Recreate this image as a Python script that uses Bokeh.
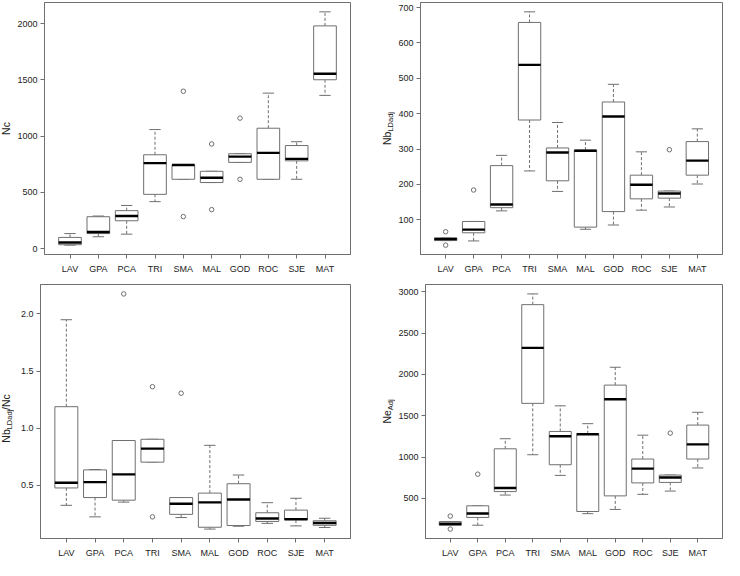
import math
from bokeh.plotting import figure
from bokeh.models import Range1d, FixedTicker, PrintfTickFormatter, Label
from bokeh.layouts import row, column
from bokeh.embed import file_html
from bokeh.resources import INLINE

categories = ["LAV", "GPA", "PCA", "TRI", "SMA", "MAL", "GOD", "ROC", "SJE", "MAT"]

# Panel 1: Nc
nc_low  = [30, 105, 128, 417, 616, 587, 766, 616, 616, 1362]
nc_q1   = [34, 133, 247, 482, 616, 587, 766, 616, 780, 1501]
nc_med  = [54, 147, 289, 760, 743, 630, 817, 851, 797, 1555]
nc_q3   = [99, 283, 337, 834, 743, 687, 843, 1070, 916, 1980]
nc_high = [133, 289, 383, 1058, 743, 687, 843, 1382, 950, 2105]
nc_out  = [[], [], [], [], [1399, 284], [930, 346], [1160, 616], [], [], []]
nc_ticks = [0, 500, 1000, 1500, 2000]

# Panel 2: Nb(LDadj)
nb_low  = [41, 40, 125, 238, 180, 73, 85, 127, 136, 201]
nb_q1   = [41, 63, 134, 382, 210, 79, 123, 159, 161, 226]
nb_med  = [45, 72, 143, 538, 290, 295, 392, 199, 174, 267]
nb_q3   = [49, 95, 253, 658, 303, 297, 433, 226, 181, 321]
nb_high = [49, 95, 282, 688, 375, 325, 483, 292, 181, 357]
nb_out  = [[66, 28], [184], [], [], [], [], [], [], [298], []]
nb_ticks = [100, 200, 300, 400, 500, 600, 700]

# Panel 3: Nb(LDadj)/Nc
r_low  = [0.325, 0.224, 0.353, 0.703, 0.218, 0.117, 0.142, 0.167, 0.145, 0.131]
r_q1   = [0.477, 0.393, 0.370, 0.703, 0.246, 0.133, 0.148, 0.184, 0.196, 0.150]
r_med  = [0.523, 0.528, 0.596, 0.821, 0.339, 0.351, 0.376, 0.210, 0.204, 0.170]
r_q3   = [1.188, 0.635, 0.892, 0.903, 0.393, 0.432, 0.514, 0.260, 0.283, 0.190]
r_high = [1.949, 0.638, 0.892, 0.903, 0.393, 0.850, 0.590, 0.348, 0.387, 0.212]
r_out  = [[], [], [2.175], [1.363, 0.224], [1.306], [], [], [], [], []]
r_ticks = [0.5, 1.0, 1.5, 2.0]

# Panel 4: Ne(Adj)
ne_low  = [172, 175, 540, 1028, 778, 315, 366, 549, 588, 868]
ne_q1   = [172, 269, 582, 1650, 907, 341, 530, 687, 693, 976]
ne_med  = [192, 316, 625, 2322, 1251, 1276, 1700, 860, 752, 1153]
ne_q3   = [219, 410, 1100, 2845, 1310, 1283, 1871, 976, 782, 1387]
ne_high = [219, 410, 1222, 2975, 1620, 1404, 2087, 1265, 782, 1542]
ne_out  = [[285, 128], [793], [], [], [], [], [], [], [1290], []]
ne_ticks = [500, 1000, 1500, 2000, 2500, 3000]

FONT = "Liberation Sans"
LINE = "#6f6f6f"
TEXT = "#222222"
MAIN_PX = 10.5
SUB_PX = 7.5
DESC = 0.21
CW = {"N": 0.722, "b": 0.556, "L": 0.556, "D": 0.722, "a": 0.556, "d": 0.556,
      "j": 0.222, "/": 0.278, "c": 0.5, "e": 0.556, "A": 0.667}


def text_w(s, px):
    return sum(CW.get(ch, 0.556) for ch in s) * px


def make_panel(low, q1, med, q3, high, outs, ticks, fmt, width, height, bl, br, bt, bb):
    n = len(categories)
    xs = list(range(1, n + 1))
    allv = low + high + [v for o in outs for v in o]
    vmin, vmax = min(allv), max(allv)
    pad = 0.04 * (vmax - vmin)
    xpad = 0.04 * n
    p = figure(width=width, height=height,
               x_range=Range1d(0.5 - xpad, n + 0.5 + xpad),
               y_range=Range1d(vmin - pad, vmax + pad),
               output_backend="svg", toolbar_location=None,
               min_border_left=bl, min_border_right=br,
               min_border_top=bt, min_border_bottom=bb)
    p.background_fill_color = "white"
    p.border_fill_color = "white"
    p.outline_line_color = LINE
    p.outline_line_width = 1
    p.xgrid.visible = False
    p.ygrid.visible = False

    hw = 0.4
    cw = 0.2
    p.segment(x0=xs, y0=q3, x1=xs, y1=high, line_color=LINE, line_width=1, line_dash="3 2")
    p.segment(x0=xs, y0=q1, x1=xs, y1=low, line_color=LINE, line_width=1, line_dash="3 2")
    p.segment(x0=[x - cw for x in xs], y0=high, x1=[x + cw for x in xs], y1=high,
              line_color=LINE, line_width=1)
    p.segment(x0=[x - cw for x in xs], y0=low, x1=[x + cw for x in xs], y1=low,
              line_color=LINE, line_width=1)
    p.quad(left=[x - hw for x in xs], right=[x + hw for x in xs], bottom=q1, top=q3,
           fill_color="white", line_color=LINE, line_width=1)
    p.segment(x0=[x - hw for x in xs], y0=med, x1=[x + hw for x in xs], y1=med,
              line_color="black", line_width=2.4)
    ox = [x for x, o in zip(xs, outs) for _ in o]
    oy = [v for o in outs for v in o]
    p.scatter(x=ox, y=oy, marker="circle", size=4.5, fill_color=None,
              line_color=LINE, line_width=1)

    for ax in (p.xaxis[0], p.yaxis[0]):
        ax.axis_line_color = LINE
        ax.major_tick_line_color = LINE
        ax.minor_tick_line_color = None
        ax.major_tick_in = 0
        ax.major_tick_out = 4
        ax.major_label_text_font = FONT
        ax.major_label_text_font_size = "9px"
        ax.major_label_text_color = TEXT
    p.xaxis.ticker = FixedTicker(ticks=xs)
    p.xaxis.major_label_overrides = {x: c for x, c in zip(xs, categories)}
    p.xaxis.major_label_standoff = 5
    p.yaxis.ticker = FixedTicker(ticks=ticks)
    p.yaxis.formatter = PrintfTickFormatter(format=fmt)
    p.yaxis.major_label_standoff = 3
    return p


def make_label(parts, plot, width, height, bt, bb, base_x, label_dy):
    """Narrow figure holding the rotated y-axis title (text with subscripts)."""
    yr = plot.y_range
    lf = figure(width=width, height=height,
                x_range=Range1d(0, width), y_range=yr,
                output_backend="svg", toolbar_location=None,
                x_axis_location=None, y_axis_location=None,
                min_border_left=0, min_border_right=0,
                min_border_top=bt, min_border_bottom=bb)
    lf.outline_line_color = None
    lf.xgrid.visible = False
    lf.ygrid.visible = False
    lf.background_fill_color = "white"
    lf.border_fill_color = "white"
    frame_h = height - bt - bb
    ppu = frame_h / (yr.end - yr.start)
    ymid = (yr.start + yr.end) / 2
    total = sum(text_w(t, SUB_PX if sub else MAIN_PX) for t, sub in parts)
    off = -total / 2 - label_dy
    for t, sub in parts:
        px = SUB_PX if sub else MAIN_PX
        bx = base_x + (2.5 if sub else 0) + DESC * px
        lf.add_layout(Label(x=bx, y=ymid + off / ppu,
                            text=t, angle=90, angle_units="deg",
                            text_align="left", text_baseline="bottom",
                            text_font=FONT, text_font_size=f"{px}px",
                            text_color=TEXT))
        off += text_w(t, px)
    return lf


TOP_H, BOT_H = 278, 282
LW_L, LW_R = 14, 33

p1 = make_panel(nc_low, nc_q1, nc_med, nc_q3, nc_high, nc_out, nc_ticks, "%d",
                362 - LW_L, TOP_H, 26, 12, 2, 24)
p2 = make_panel(nb_low, nb_q1, nb_med, nb_q3, nb_high, nb_out, nb_ticks, "%d",
                362 - LW_R, TOP_H, 25, 2, 2, 24)
p3 = make_panel(r_low, r_q1, r_med, r_q3, r_high, r_out, r_ticks, "%.1f",
                362 - LW_L, BOT_H, 26, 12, 6, 20)
p4 = make_panel(ne_low, ne_q1, ne_med, ne_q3, ne_high, ne_out, ne_ticks, "%d",
                362 - LW_R, BOT_H, 26, 2, 6, 20)

l1 = make_label([("Nc", False)], p1, LW_L, TOP_H, 2, 24, 9, 0)
l2 = make_label([("Nb", False), ("LDadj", True)], p2, LW_R, TOP_H, 2, 24, 28, 0)
l3 = make_label([("Nb", False), ("LDadj", True), ("/Nc", False)], p3, LW_L, BOT_H, 6, 20, 9, 7)
l4 = make_label([("Ne", False), ("Adj", True)], p4, LW_R, BOT_H, 6, 20, 28, 0)

layout = column(row(l1, p1, l2, p2), row(l3, p3, l4, p4))

open("out.html", "w").write(file_html(layout, INLINE))
